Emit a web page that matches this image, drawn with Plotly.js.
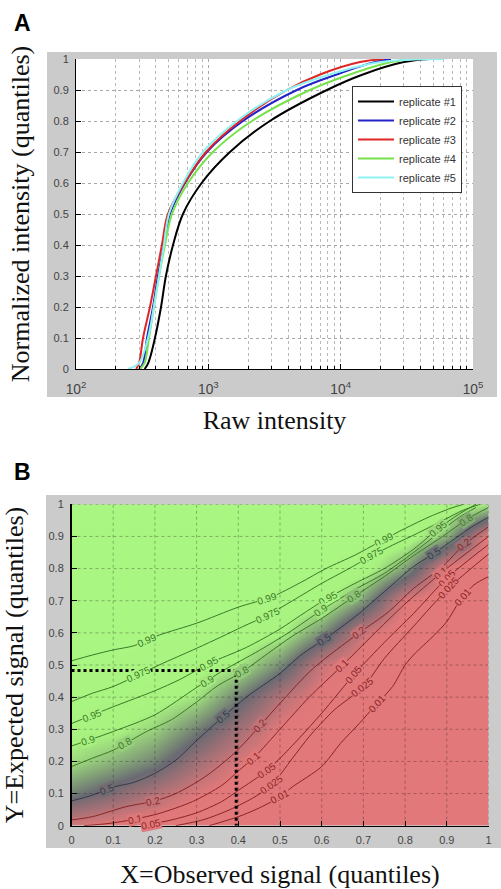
<!DOCTYPE html>
<html><head><meta charset="utf-8">
<script src="https://cdn.plot.ly/plotly-3.0.1.min.js"></script>
<style>html,body{margin:0;padding:0;background:#fff;}#chart{width:501px;height:889px;}</style>
</head><body><div id="chart"></div>
<script>
// ---------- Panel A data: raw intensity at each quantile level ----------
const quantileLevels = [0, 0.02, 0.1, 0.2, 0.3, 0.4, 0.5, 0.6, 0.7, 0.8, 0.9, 0.95, 0.99, 1];
const replicate1 = [330, 352, 395, 439, 478, 541, 643, 890, 1456, 2918, 7870, 14720, 30000, 47000];
const replicate2 = [300, 322, 344, 382, 416, 462, 513, 666, 976, 1825, 4668, 9356, 18000, 24000];
const replicate3 = [285, 300, 321, 362, 402, 446, 495, 660, 960, 1733, 3925, 7000, 14000, 21000];
const replicate4 = [305, 330, 356, 388, 424, 470, 531, 702, 1083, 2134, 5848, 11730, 24000, 35000];
const replicate5 = [247, 300, 350, 388, 424, 462, 504, 643, 910, 1644, 3925, 8285, 20000, 60000];
const replicateNames = ['replicate #1', 'replicate #2', 'replicate #3', 'replicate #4', 'replicate #5'];
const replicateColors = ['#000000', '#2323c8', '#e02525', '#77e14a', '#8ff2f2'];

// ---------- Panel B data ----------
const quantileTicks = [0, 0.1, 0.2, 0.3, 0.4, 0.5, 0.6, 0.7, 0.8, 0.9, 1];
// probability field (rows: Y = 0..1, columns: X = 0..1)
const probabilityGrid = [
  [0.15, 0.10, 0.05, 0.025, 0.008, 0.002, 0.001, 0.001, 0.001, 0.0005, 0],
  [0.565, 0.42, 0.277, 0.134, 0.044, 0.012, 0.005, 0.002, 0.001, 0.001, 0],
  [0.825, 0.71, 0.572, 0.334, 0.143, 0.042, 0.011, 0.004, 0.002, 0.001, 0.001],
  [0.937, 0.905, 0.79, 0.564, 0.324, 0.10, 0.023, 0.008, 0.003, 0.001, 0.001],
  [0.977, 0.962, 0.937, 0.843, 0.553, 0.261, 0.083, 0.02, 0.006, 0.002, 0.001],
  [0.989, 0.984, 0.975, 0.954, 0.86, 0.59, 0.194, 0.05, 0.011, 0.004, 0.002],
  [0.995, 0.993, 0.991, 0.984, 0.97, 0.90, 0.60, 0.181, 0.024, 0.008, 0.004],
  [0.998, 0.997, 0.996, 0.994, 0.991, 0.979, 0.95, 0.636, 0.137, 0.019, 0.007],
  [1, 1, 0.999, 0.998, 0.997, 0.995, 0.992, 0.961, 0.65, 0.10, 0.015],
  [1, 1, 1, 1, 1, 0.999, 0.999, 0.997, 0.978, 0.70, 0.10],
  [1, 1, 1, 1, 1, 1, 1, 1, 1, 0.985, 0.85]
];
// contour lines
const contourLevels = ['0.99', '0.975', '0.95', '0.9', '0.8', '0.5', '0.2', '0.1', '0.05', '0.025', '0.01'];
const c099X = [0, 0.05, 0.1, 0.15, 0.21, 0.3, 0.4, 0.48, 0.55, 0.61, 0.68, 0.74, 0.8, 0.86, 0.91, 0.94];
const c099Y = [0.513, 0.531, 0.547, 0.56, 0.593, 0.63, 0.68, 0.712, 0.757, 0.8, 0.842, 0.884, 0.925, 0.962, 0.988, 1.0];
const c0975X = [0, 0.05, 0.1, 0.16, 0.21, 0.3, 0.36, 0.41, 0.47, 0.53, 0.6, 0.66, 0.72, 0.77, 0.83, 0.885, 0.94, 0.98];
const c0975Y = [0.386, 0.412, 0.433, 0.469, 0.5, 0.552, 0.588, 0.619, 0.655, 0.7, 0.754, 0.796, 0.84, 0.873, 0.91, 0.946, 0.982, 1.0];
const c095X = [0, 0.1, 0.2, 0.26, 0.33, 0.42, 0.5, 0.55, 0.61, 0.68, 0.75, 0.82, 0.88, 0.93, 0.97];
const c095Y = [0.318, 0.37, 0.42, 0.455, 0.505, 0.555, 0.612, 0.655, 0.705, 0.754, 0.8, 0.86, 0.925, 0.97, 1.0];
const c090X = [0, 0.05, 0.1, 0.2, 0.3, 0.36, 0.45, 0.52, 0.6, 0.68, 0.75, 0.82, 0.88, 0.93, 0.97];
const c090Y = [0.248, 0.27, 0.293, 0.345, 0.43, 0.48, 0.545, 0.6, 0.671, 0.735, 0.785, 0.85, 0.91, 0.96, 0.99];
const c080X = [0, 0.05, 0.1, 0.18, 0.24, 0.3, 0.35, 0.41, 0.47, 0.53, 0.6, 0.68, 0.75, 0.82, 0.89, 0.95, 1.0];
const c080Y = [0.184, 0.21, 0.235, 0.293, 0.33, 0.385, 0.435, 0.479, 0.535, 0.59, 0.645, 0.715, 0.775, 0.84, 0.9, 0.955, 0.99];
const c050X = [0, 0.05, 0.1, 0.15, 0.2, 0.25, 0.3, 0.36, 0.42, 0.5, 0.55, 0.61, 0.68, 0.75, 0.82, 0.87, 0.92, 0.96, 1.0];
const c050Y = [0.077, 0.095, 0.12, 0.135, 0.163, 0.204, 0.265, 0.335, 0.401, 0.474, 0.531, 0.583, 0.65, 0.728, 0.806, 0.848, 0.894, 0.93, 0.96];
const c020X = [0, 0.05, 0.13, 0.2, 0.25, 0.32, 0.39, 0.45, 0.5, 0.58, 0.69, 0.76, 0.82, 0.89, 0.94, 1.0];
const c020Y = [0.018, 0.028, 0.059, 0.077, 0.1, 0.152, 0.225, 0.308, 0.381, 0.49, 0.6, 0.665, 0.738, 0.806, 0.873, 0.93];
const c010X = [0.03, 0.09, 0.15, 0.21, 0.29, 0.36, 0.4, 0.44, 0.5, 0.57, 0.65, 0.72, 0.8, 0.89, 1.0];
const c010Y = [0, 0.007, 0.02, 0.038, 0.075, 0.125, 0.17, 0.215, 0.3, 0.4, 0.499, 0.59, 0.69, 0.79, 0.9];
const c005X = [0.17, 0.24, 0.3, 0.36, 0.4, 0.47, 0.53, 0.6, 0.68, 0.75, 0.82, 0.9, 1.0];
const c005Y = [0, 0.018, 0.04, 0.075, 0.11, 0.173, 0.25, 0.35, 0.474, 0.57, 0.66, 0.77, 0.875];
const c0025X = [0.25, 0.32, 0.38, 0.44, 0.48, 0.53, 0.57, 0.63, 0.7, 0.75, 0.82, 0.905, 1.0];
const c0025Y = [0, 0.02, 0.05, 0.09, 0.127, 0.21, 0.277, 0.36, 0.432, 0.52, 0.62, 0.74, 0.845];
const c001X = [0.33, 0.4, 0.45, 0.5, 0.53, 0.6, 0.645, 0.69, 0.73, 0.77, 0.8, 0.82, 0.87, 0.9, 0.93, 0.965, 1.0];
const c001Y = [0, 0.028, 0.055, 0.09, 0.121, 0.184, 0.256, 0.318, 0.376, 0.433, 0.5, 0.531, 0.593, 0.635, 0.697, 0.749, 0.775];
const contourX = [c099X, c0975X, c095X, c090X, c080X, c050X, c020X, c010X, c005X, c0025X, c001X];
const contourY = [c099Y, c0975Y, c095Y, c090Y, c080Y, c050Y, c020Y, c010Y, c005Y, c0025Y, c001Y];
// where the inline level labels sit (X positions along each line)
const labelPlaces = [[0.18, 0.47, 0.75], [0.16, 0.47, 0.72], [0.05, 0.33, 0.614, 0.88], [0.04, 0.324, 0.598],
  [0.128, 0.41, 0.677, 0.945], [0.084, 0.364, 0.606, 0.869], [0.196, 0.452, 0.69, 0.941], [0.152, 0.436, 0.649, 0.885],
  [0.19, 0.468, 0.677, 0.9], [0.48, 0.697, 0.905], [0.5, 0.733, 0.94]];
const exampleObserved = 0.395, exampleExpected = 0.483;

// ---------- layout geometry ----------
const W = 501, H = 889;
const domAx = [76 / W, 473 / W], domAy = [(H - 369) / H, (H - 59) / H];
const domBx = [71.5 / W, 488.5 / W], domBy = [(H - 825.7) / H, (H - 504.3) / H];
const pxBw = (domBx[1] - domBx[0]) * W, pxBh = (domBy[1] - domBy[0]) * H;
function tickFont() { return {family: 'Liberation Sans, Arial, sans-serif', size: 11, color: '#444'}; }
function titleFont() { return {family: 'Liberation Serif, Times New Roman, serif', size: 26, color: '#111'}; }

const scaleStops = [[0, [226, 120, 122]], [0.12, [224, 120, 122]], [0.5, [106, 106, 114]], [0.88, [168, 242, 128]], [1, [170, 246, 130]]];
const colorscale = scaleStops.map(s => [s[0], 'rgb(' + s[1].join(',') + ')']);
function colorFor(p) {
  for (let i = 0; i < scaleStops.length - 1; i++) {
    const a = scaleStops[i], b = scaleStops[i + 1];
    if (p >= a[0] && p <= b[0]) {
      const t = (p - a[0]) / (b[0] - a[0]);
      return 'rgb(' + a[1].map((c, j) => Math.round(c + t * (b[1][j] - c))).join(',') + ')';
    }
  }
  return 'rgb(' + scaleStops[scaleStops.length - 1][1].join(',') + ')';
}
function fieldAt(x, y) {
  const n = quantileTicks.length - 1;
  const fx = Math.min(x * n, n - 1e-6), fy = Math.min(y * n, n - 1e-6);
  const i = Math.floor(fx), j = Math.floor(fy), tx = fx - i, ty = fy - j;
  const g = probabilityGrid;
  return (1 - tx) * (1 - ty) * g[j][i] + tx * (1 - ty) * g[j][i + 1] + (1 - tx) * ty * g[j + 1][i] + tx * ty * g[j + 1][i + 1];
}

const traces = [];
const reps = [replicate1, replicate2, replicate3, replicate4, replicate5];
reps.forEach((r, i) => traces.push({
  type: 'scatter', mode: 'lines', x: r, y: quantileLevels, name: replicateNames[i],
  line: {color: replicateColors[i], width: 2, shape: 'spline', smoothing: 1},
  xaxis: 'x', yaxis: 'y', showlegend: true
}));

traces.push({
  type: 'heatmap', x: quantileTicks, y: quantileTicks, z: probabilityGrid, zmin: 0, zmax: 1, zsmooth: 'best',
  colorscale: colorscale, showscale: false, xaxis: 'x2', yaxis: 'y2', hoverinfo: 'skip'
});

function lineColor(lv) { const v = parseFloat(lv); return v > 0.5 ? '#3a7a26' : (v === 0.5 ? '#363a48' : '#8c2424'); }
contourLevels.forEach((lv, i) => traces.push({
  type: 'scatter', mode: 'lines', x: contourX[i], y: contourY[i], showlegend: false,
  line: {color: lineColor(lv), width: 1, shape: 'spline', smoothing: 0.8}, xaxis: 'x2', yaxis: 'y2', hoverinfo: 'skip'
}));
traces.push({
  type: 'scatter', mode: 'lines', x: [0, exampleObserved, exampleObserved], y: [exampleExpected, exampleExpected, 0],
  line: {color: '#000', width: 3, dash: 'dot'}, showlegend: false, xaxis: 'x2', yaxis: 'y2', hoverinfo: 'skip'
});

const annotations = [];
contourLevels.forEach((lv, i) => {
  const xs = contourX[i], ys = contourY[i];
  labelPlaces[i].forEach(xv => {
    for (let k = 0; k < xs.length - 1; k++) {
      if (xv >= xs[k] && xv <= xs[k + 1]) {
        const t = (xv - xs[k]) / (xs[k + 1] - xs[k]);
        const yv = ys[k] + t * (ys[k + 1] - ys[k]);
        const ang = -Math.atan2((ys[k + 1] - ys[k]) * pxBh, (xs[k + 1] - xs[k]) * pxBw) * 180 / Math.PI;
        annotations.push({x: xv, y: yv, xref: 'x2', yref: 'y2', text: lv, showarrow: false, textangle: ang,
          bgcolor: colorFor(fieldAt(xv, yv)), borderpad: 0,
          font: {family: 'Liberation Sans, Arial, sans-serif', size: 10, color: lineColor(lv)}});
        break;
      }
    }
  });
});
annotations.push({x: 12 / W, y: (H - 23) / H, xref: 'paper', yref: 'paper', xanchor: 'left', yanchor: 'middle', showarrow: false,
  text: '<b>A</b>', font: {family: 'Liberation Sans, Arial, sans-serif', size: 23, color: '#000'}});
annotations.push({x: 12 / W, y: (H - 472) / H, xref: 'paper', yref: 'paper', xanchor: 'left', yanchor: 'middle', showarrow: false,
  text: '<b>B</b>', font: {family: 'Liberation Sans, Arial, sans-serif', size: 23, color: '#000'}});

const shapes = [
  {type: 'rect', xref: 'paper', yref: 'paper', x0: 47 / W, x1: 497 / W, y0: (H - 397) / H, y1: (H - 52) / H, fillcolor: '#cbcbcb', line: {width: 0}, layer: 'below'},
  {type: 'rect', xref: 'x domain', yref: 'y domain', x0: 0, x1: 1, y0: 0, y1: 1, fillcolor: '#ffffff', line: {width: 0}, layer: 'below'},
  {type: 'rect', xref: 'paper', yref: 'paper', x0: 46 / W, x1: 501 / W, y0: (H - 848) / H, y1: (H - 495) / H, fillcolor: '#cbcbcb', line: {width: 0}, layer: 'below'}
];
quantileTicks.slice(1).forEach(t => {
  shapes.push({type: 'line', xref: 'x2', yref: 'y2', x0: t, x1: t, y0: 0, y1: 1, line: {color: 'rgba(0,0,0,0.28)', width: 1, dash: 'dot'}, layer: 'above'});
  shapes.push({type: 'line', xref: 'x2', yref: 'y2', x0: 0, x1: 1, y0: t, y1: t, line: {color: 'rgba(0,0,0,0.28)', width: 1, dash: 'dot'}, layer: 'above'});
});

const layout = {
  width: W, height: H, margin: {l: 0, r: 0, t: 0, b: 0}, paper_bgcolor: '#fff', plot_bgcolor: '#fff',
  showlegend: true,
  legend: {x: 352 / W, y: (H - 86) / H, xanchor: 'left', yanchor: 'top', bgcolor: '#fff', bordercolor: '#333', borderwidth: 1,
    font: {family: 'Liberation Sans, Arial, sans-serif', size: 11, color: '#333'}, tracegroupgap: 0, itemwidth: 36},
  xaxis: {domain: domAx, anchor: 'y', type: 'log', range: [2, 5], dtick: 1, exponentformat: 'power',
    showline: true, linecolor: '#000', linewidth: 1, ticks: 'inside', ticklen: 5, tickcolor: '#000',
    showgrid: true, gridcolor: '#a8a8a8', griddash: 'dot', zeroline: false, tickfont: tickFont(), ticklabelstandoff: 8,
    minor: {dtick: 'D1', showgrid: true, gridcolor: '#b8b8b8', griddash: 'dot', ticks: 'inside', ticklen: 3, tickcolor: '#000'},
    title: {text: 'Raw intensity', font: titleFont(), standoff: 14}},
  yaxis: {domain: domAy, anchor: 'x', range: [0, 1], dtick: 0.1, showline: true, linecolor: '#000', linewidth: 1,
    ticks: 'inside', ticklen: 5, tickcolor: '#000', showgrid: true, gridcolor: '#a8a8a8', griddash: 'dot', zeroline: false,
    tickfont: tickFont(), ticklabelstandoff: 4,
    title: {text: 'Normalized intensity (quantiles)', font: titleFont(), standoff: 16}},
  xaxis2: {domain: domBx, anchor: 'y2', range: [0, 1], tickvals: quantileTicks, showline: true, linecolor: '#000', linewidth: 1.5,
    ticks: 'inside', ticklen: 5, tickcolor: '#000', showgrid: false, zeroline: false, layer: 'above traces', tickfont: tickFont(),
    ticklabelstandoff: 4, title: {text: 'X=Observed signal (quantiles)', font: titleFont(), standoff: 22}},
  yaxis2: {domain: domBy, anchor: 'x2', range: [0, 1], tickvals: quantileTicks, showline: true, linecolor: '#000', linewidth: 1.5,
    ticks: 'inside', ticklen: 5, tickcolor: '#000', showgrid: false, zeroline: false, layer: 'above traces', tickfont: tickFont(),
    ticklabelstandoff: 4, title: {text: 'Y=Expected signal (quantiles)', font: titleFont(), standoff: 18}},
  annotations: annotations, shapes: shapes
};
Plotly.newPlot('chart', traces, layout, {displayModeBar: false, staticPlot: true});
</script></body></html>
